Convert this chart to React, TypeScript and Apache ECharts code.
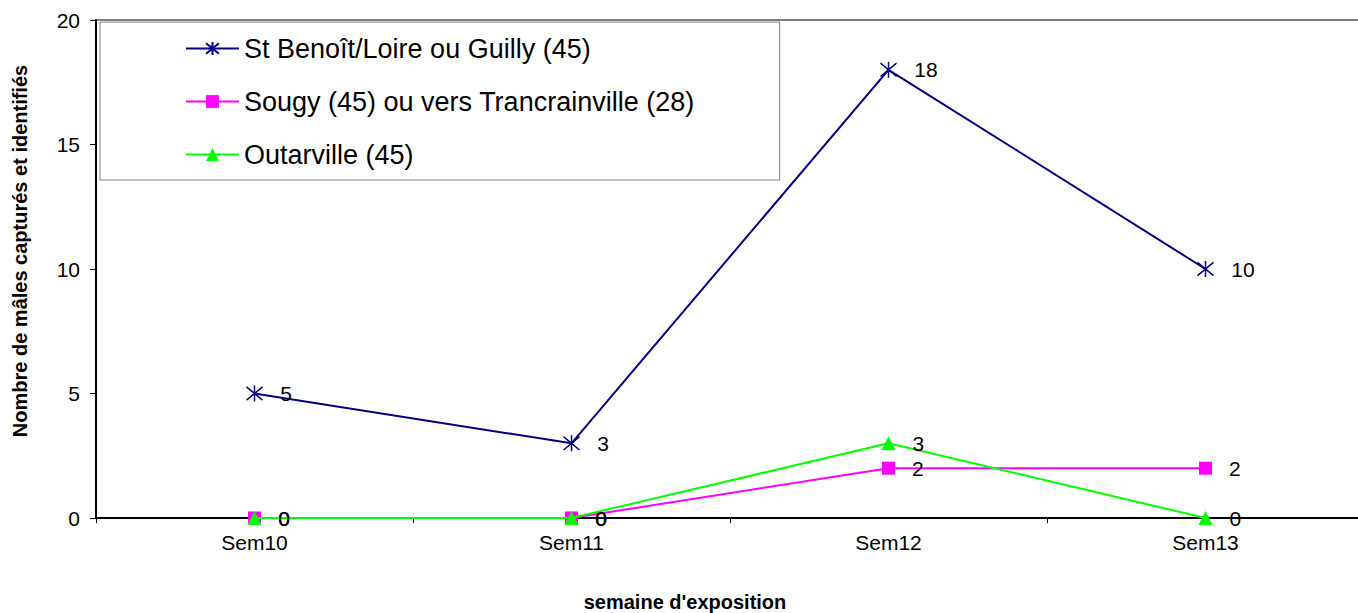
import React, { useEffect, useRef } from "react";
import * as echarts from "echarts";

const categories = ["Sem10", "Sem11", "Sem12", "Sem13"];
const stBenoit = [5, 3, 18, 10];
const sougy = [0, 0, 2, 2];
const outarville = [0, 0, 3, 0];
const seriesNames = [
  "St Benoît/Loire ou Guilly (45)",
  "Sougy (45) ou vers Trancrainville (28)",
  "Outarville (45)",
];
const yTicks = { min: 0, max: 20, interval: 5 };

const FONT = "Liberation Sans, Arial, sans-serif";
const asterisk = "path://M0,0L10,10M10,0L0,10M5,-1L5,11";

export default function App() {
  const ref = useRef<HTMLDivElement>(null);
  useEffect(() => {
    if (!ref.current) return;
    const chart = echarts.init(ref.current, null, { renderer: "svg" });
    const label = {
      show: true,
      position: "right" as const,
      distance: 17,
      color: "#000",
      fontSize: 21,
      fontFamily: FONT,
    };
    chart.setOption({
      animation: false,
      backgroundColor: "#fff",
      grid: {
        left: 96,
        top: 20,
        width: 1268,
        height: 498,
        show: true,
        borderColor: "#808080",
        borderWidth: 2,
        backgroundColor: "transparent",
      },
      legend: {
        orient: "vertical",
        left: 100,
        top: 22,
        padding: [13, 85, 12, 85],
        backgroundColor: "#fff",
        borderColor: "#808080",
        borderWidth: 1,
        borderRadius: 0,
        itemWidth: 53,
        itemHeight: 16,
        itemGap: 26,
        textStyle: { fontSize: 27, lineHeight: 26, fontFamily: FONT, color: "#000" },
        data: seriesNames,
      },
      xAxis: {
        type: "category",
        data: categories,
        boundaryGap: true,
        axisLine: { lineStyle: { color: "#000", width: 2 } },
        axisTick: { show: true, length: 5, lineStyle: { color: "#000" } },
        axisLabel: { fontSize: 21, fontFamily: FONT, color: "#000", margin: 14 },
        splitLine: { show: false },
      },
      yAxis: {
        type: "value",
        min: yTicks.min,
        max: yTicks.max,
        interval: yTicks.interval,
        axisLine: { show: true, lineStyle: { color: "#000", width: 2 } },
        axisTick: { show: true, length: 6, lineStyle: { color: "#000" } },
        axisLabel: { fontSize: 21, fontFamily: FONT, color: "#000", margin: 16 },
        splitLine: { show: false },
      },
      graphic: [
        {
          type: "text",
          x: 20,
          y: 251,
          rotation: Math.PI / 2,
          style: {
            text: "Nombre de mâles capturés et identifiés",
            font: `bold 20px ${FONT}`,
            fill: "#000",
            align: "center",
            verticalAlign: "middle",
          },
        },
        {
          type: "text",
          x: 685,
          y: 602,
          style: {
            text: "semaine d'exposition",
            font: `bold 20px ${FONT}`,
            fill: "#000",
            align: "center",
            verticalAlign: "middle",
          },
        },
      ],
      series: [
        {
          name: seriesNames[0],
          type: "line",
          data: stBenoit,
          symbol: asterisk,
          symbolSize: 16,
          lineStyle: { color: "#000080", width: 2 },
          itemStyle: { color: "#000080", borderColor: "#000080", borderWidth: 1.5 },
          label,
          z: 3,
        },
        {
          name: seriesNames[1],
          type: "line",
          data: sougy,
          symbol: "rect",
          symbolSize: 13,
          lineStyle: { color: "#FF00FF", width: 2 },
          itemStyle: { color: "#FF00FF" },
          label,
          z: 4,
        },
        {
          name: seriesNames[2],
          type: "line",
          data: outarville,
          symbol: "triangle",
          symbolSize: 14,
          lineStyle: { color: "#00FF00", width: 2 },
          itemStyle: { color: "#00FF00" },
          label,
          z: 5,
        },
      ],
    });
    return () => chart.dispose();
  }, []);
  return (
    <div style={{ position: "absolute", left: 0, top: 0, width: 1358, height: 613, overflow: "hidden" }}>
      <div ref={ref} style={{ width: 1372, height: 613 }} />
    </div>
  );
}
